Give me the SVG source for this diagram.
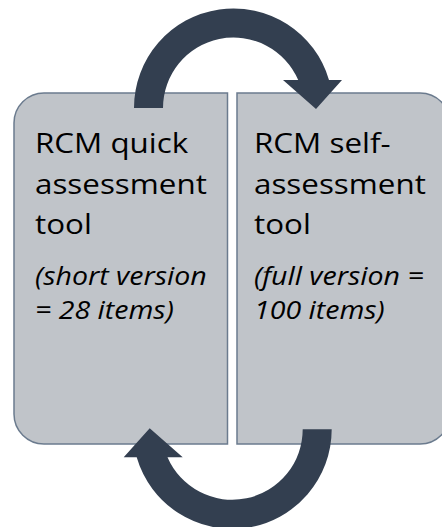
<svg xmlns="http://www.w3.org/2000/svg" width="442" height="527" viewBox="0 0 442 527">
  <defs>
    <style>
      .panel { fill: #C0C4C9; stroke: #6B7B8E; stroke-width: 1.5; }
      .title { font-family: "Open Sans", "Liberation Sans", sans-serif; font-size: 28px; fill: #000; }
      .note { font-family: "Open Sans", "Liberation Sans", sans-serif; font-size: 25.5px; font-style: italic; fill: #000; }
      .loop { fill: #333F50; }
    </style>
    <!-- curved arrow: left leg rises, arcs over the top and points down on the right -->
    <path id="curved-arrow" class="loop" d="M 134 108 A 99.5 99.5 0 0 1 329 80 L 342 80 L 316 109 L 283 80 L 298.2 80 A 70.5 70.5 0 0 0 163 108 Z"/>
  </defs>

  <rect width="442" height="527" fill="#FFFFFF"/>

  <g id="quick-tool">
    <path class="panel" d="M 227.5 93 L 44 93 A 30 30 0 0 0 14 123 L 14 414 A 30 30 0 0 0 44 444 L 227.5 444 Z"/>
    <g transform="translate(35,0) scale(1.12,1)">
      <text class="title" x="0" y="153">RCM quick</text>
      <text class="title" x="0" y="194">assessment</text>
      <text class="title" x="0" y="234">tool</text>
      <text class="note" x="0" y="285">(short version</text>
      <text class="note" x="0" y="319">= 28 items)</text>
    </g>
  </g>

  <g id="self-assessment-tool">
    <path class="panel" d="M 237 93 L 420 93 A 30 30 0 0 1 450 123 L 450 414 A 30 30 0 0 1 420 444 L 237 444 Z"/>
    <g transform="translate(254,0) scale(1.12,1)">
      <text class="title" x="0" y="153">RCM self-</text>
      <text class="title" x="0" y="194">assessment</text>
      <text class="title" x="0" y="234">tool</text>
      <text class="note" x="0" y="285">(full version =</text>
      <text class="note" x="0" y="319">100 items)</text>
    </g>
  </g>

  <g id="connectors">
    <use href="#curved-arrow"/>
    <use href="#curved-arrow" transform="rotate(180 232.85 268.65)"/>
  </g>
</svg>
